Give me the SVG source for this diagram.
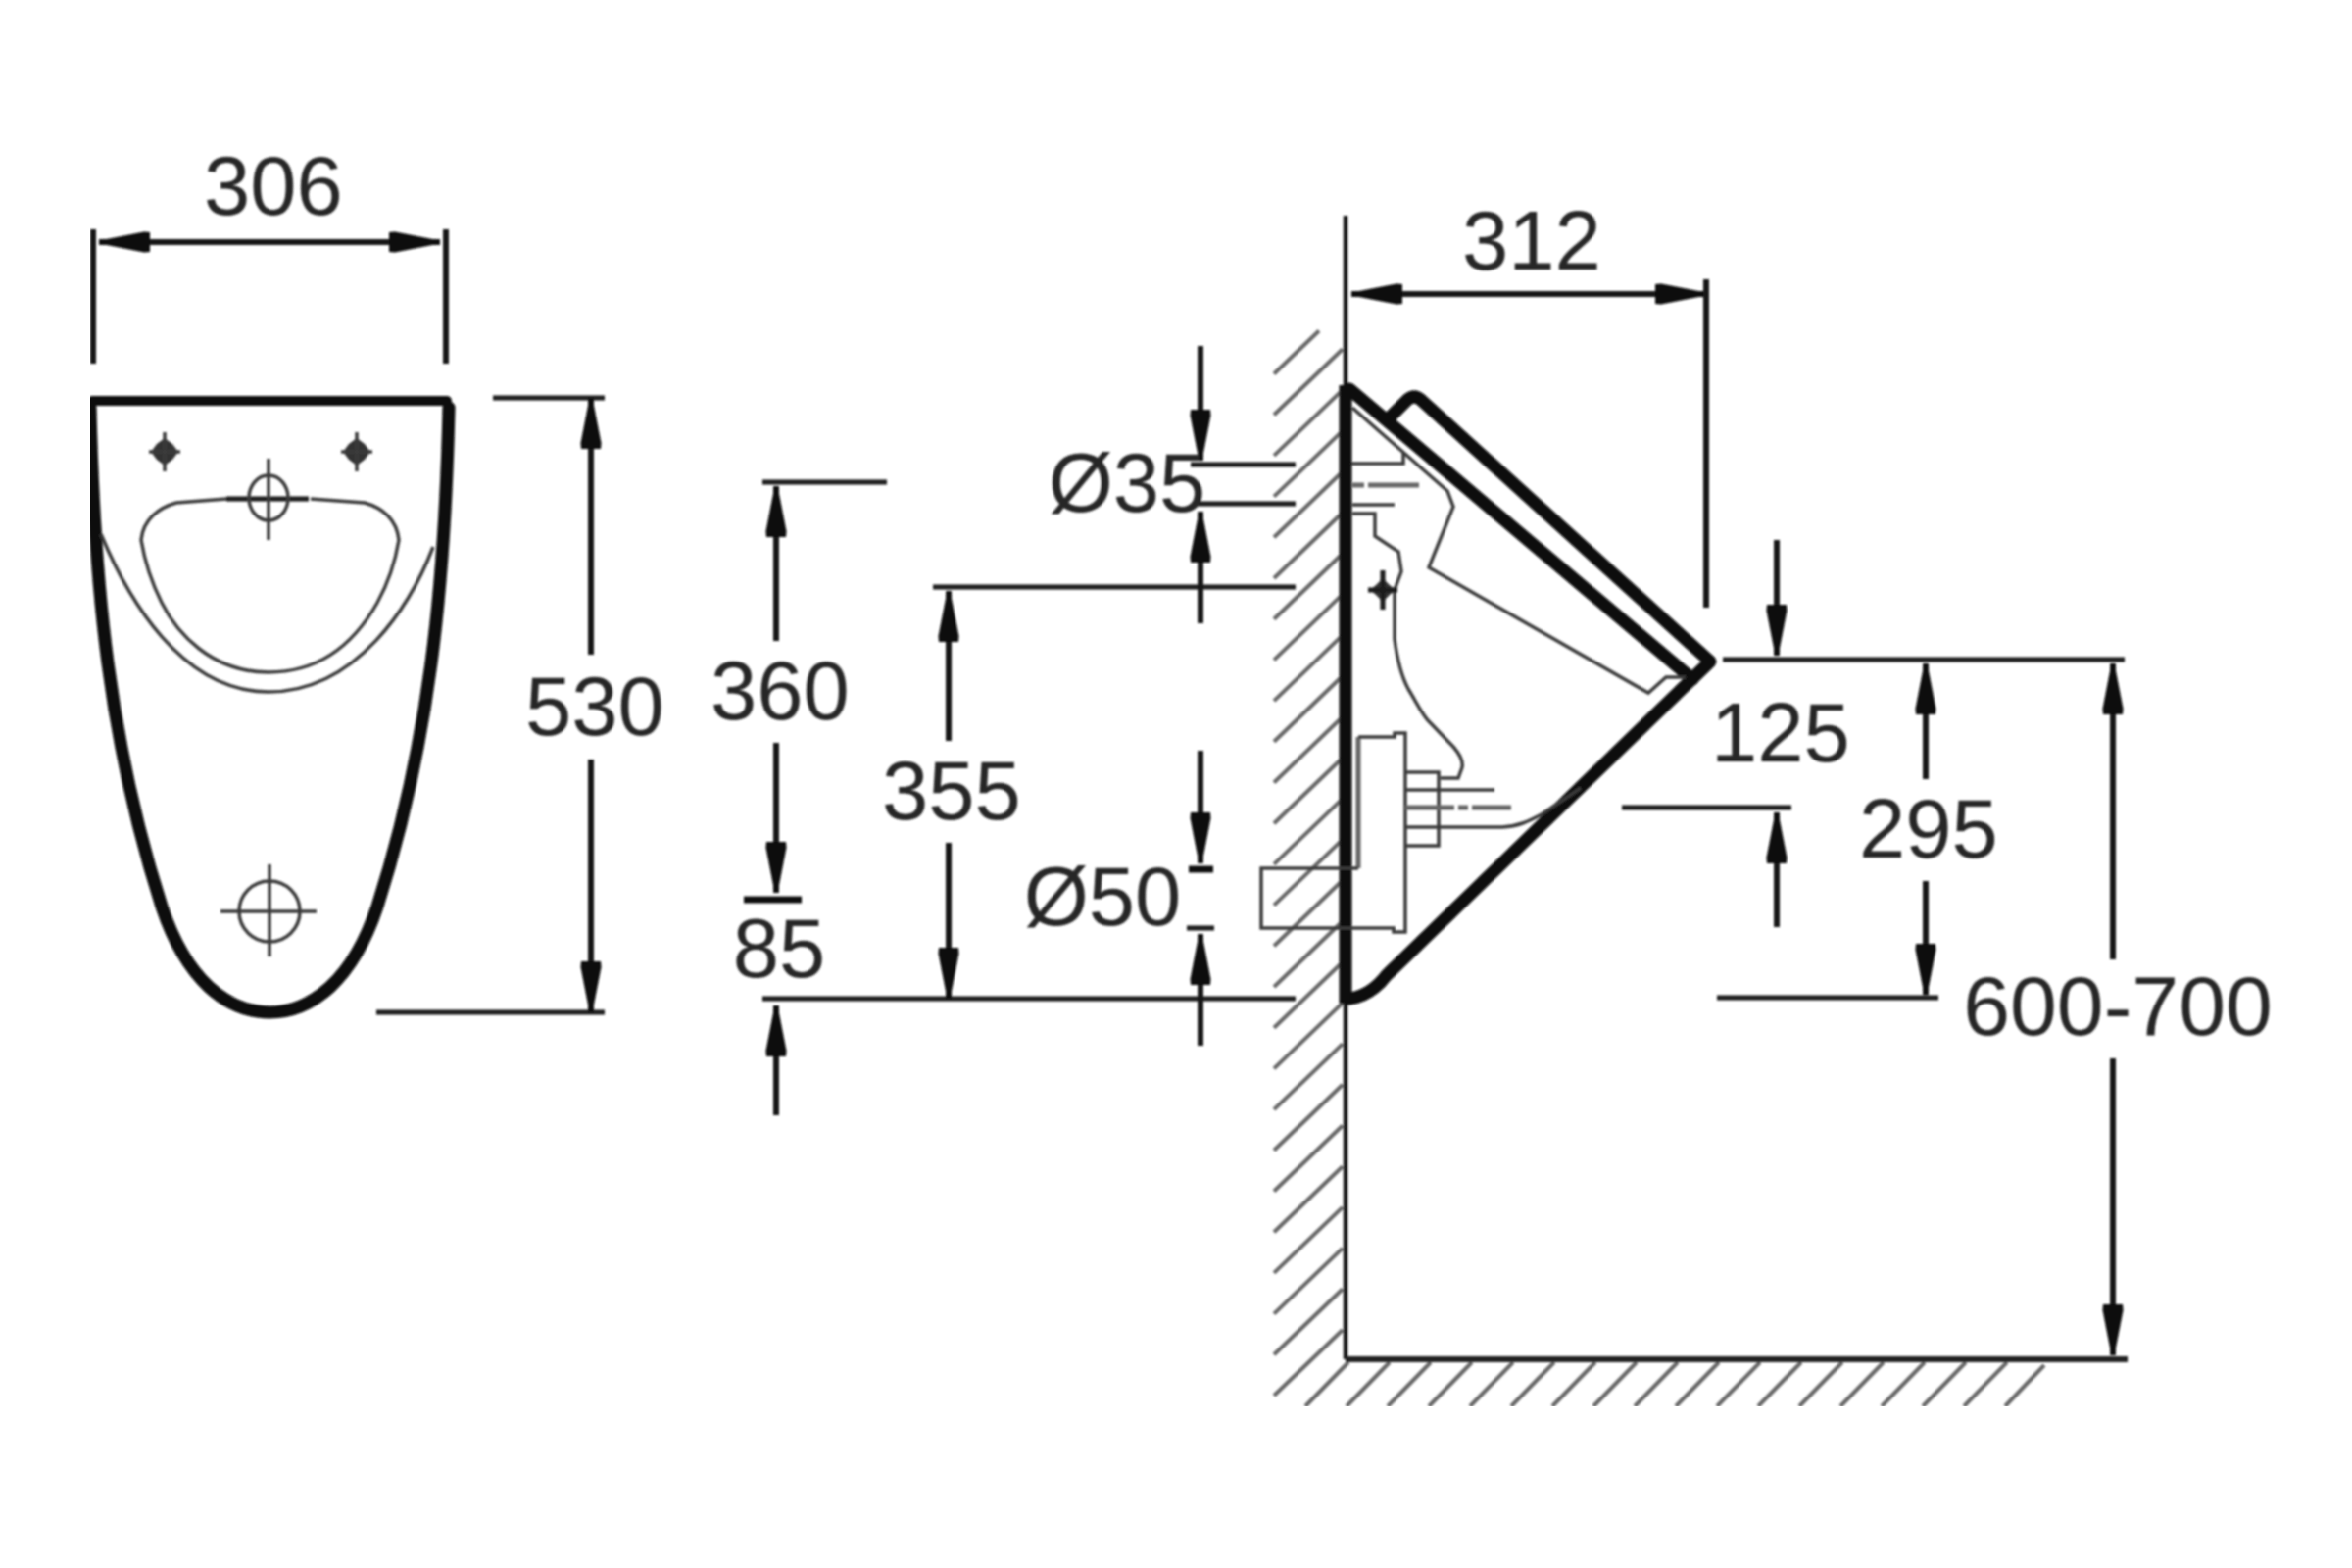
<svg xmlns="http://www.w3.org/2000/svg" width="2400" height="1600" viewBox="0 0 2400 1600">
<style>
text{font-family:"Liberation Sans",Arial,sans-serif;font-size:85px;fill:#262626;text-anchor:middle}
.dim{stroke:#141414;stroke-width:6;fill:none}
.ext{stroke:#1c1c1c;stroke-width:5;fill:none}
.heavy{stroke:#0a0a0a;stroke-width:13;fill:none;stroke-linejoin:round;stroke-linecap:round}
.thin{stroke:#3a3a3a;stroke-width:3.5;fill:none}
.grey{stroke:#666;stroke-width:5;fill:none}
.hatch{stroke:#666;stroke-width:4;fill:none}
</style>
<defs>
<marker id="arrow" markerUnits="userSpaceOnUse" markerWidth="56" markerHeight="24" refX="52" refY="12" orient="auto-start-reverse">
<polygon points="0,2 6,1.5 52,10.5 52,13.5 6,22.5 0,22" fill="#0d0d0d"/>
</marker>
<filter id="soft" x="0" y="0" width="100%" height="100%"><feGaussianBlur stdDeviation="1.1"/></filter>
</defs>
<rect width="2400" height="1600" fill="#fff"/>
<g filter="url(#soft)">
<g id="front-view">
<path class="heavy" d="M92,416C96,600 112,760 165,925C190,1000 232,1033 275,1033C318,1033 360,1000 385,925C438,760 454,600 458,416" stroke-width="12"/>
<path d="M94,409H456" stroke="#0a0a0a" stroke-width="10" stroke-linecap="round" fill="none"/>
<path class="thin" d="M103,545C130,610 185,706 274,706C365,706 420,615 442,558" stroke-width="4"/>
<path class="thin" d="M231,509L180,513C162,518 146,530 144,551C148,575 155,595 165,615C180,645 215,686 274,686C335,686 368,645 385,615C396,595 403,575 407,551C405,530 390,518 372,513L317,509"/>
<path class="ext" d="M231,509H315"/>
<ellipse class="thin" cx="274" cy="508" rx="20" ry="23"/>
<path class="thin" d="M274,468V551"/>
<g id="front-fixing-left"><polygon points="168,447 176,453 182,461 176,469 168,475 160,469 154,461 160,453" fill="#333"/><path class="thin" d="M152,461H184M168,441V481"/></g>
<g id="front-fixing-right"><polygon points="364,447 372,453 378,461 372,469 364,475 356,469 350,461 356,453" fill="#333"/><path class="thin" d="M348,461H380M364,441V481"/></g>
<g id="front-outlet"><ellipse class="thin" cx="275" cy="930" rx="31" ry="31"/><path class="thin" d="M225,930H323M275,882V976"/></g>
</g>
<g id="wall-floor">
<path class="hatch" d="M1300,1424l70,-67M1300,1382.3l70,-67M1300,1340.6l70,-67M1300,1298.9l70,-67M1300,1257.2l70,-67M1300,1215.5l70,-67M1300,1173.8l70,-67M1300,1132.1l70,-67M1300,1090.4l70,-67M1300,1048.7l70,-67M1300,1007l70,-67M1300,965.3l70,-67M1300,923.6l70,-67M1300,881.9l70,-67M1300,840.2l70,-67M1300,798.5l70,-67M1300,756.8l70,-67M1300,715.1l70,-67M1300,673.4l70,-67M1300,631.7l70,-67M1300,590l70,-67M1300,548.3l70,-67M1300,506.6l70,-67M1300,464.9l70,-67M1300,423.2l70,-67M1300,381.5l46,-44"/>
<path class="hatch" d="M1332,1435l44,-45M1374,1435l44,-45M1416,1435l44,-45M1458,1435l44,-45M1500,1435l44,-45M1542,1435l44,-45M1584,1435l44,-45M1626,1435l44,-45M1668,1435l44,-45M1710,1435l44,-45M1752,1435l44,-45M1794,1435l44,-45M1836,1435l44,-45M1878,1435l44,-45M1920,1435l44,-45M1962,1435l44,-45M2004,1435l44,-45M2046,1435l40,-42"/>
<path d="M1373,220V1387" stroke="#141414" stroke-width="4.5" fill="none"/>
<path d="M1373,1387H2171" stroke="#222" stroke-width="6" fill="none"/>
</g>
<g id="side-view">
<path d="M1373,393V1024" stroke="#0a0a0a" stroke-width="13" fill="none"/>
<path class="heavy" d="M1377,397L1727,693"/>
<path class="heavy" d="M1417,427L1436,408Q1443,402 1450,408L1745,675L1415,995C1405,1008 1392,1017 1377,1019"/>
<path class="thin" d="M1380,416L1477,501L1483,517L1458,579L1682,707L1700,691H1720"/>
<path class="thin" d="M1379,473H1432V462"/>
<path class="grey" d="M1380,495H1448" stroke-dasharray="12 4 44 0"/>
<path class="thin" d="M1380,515H1423"/>
<path class="thin" d="M1380,524H1403V547L1427,563L1430,583L1423,602V652C1426,675 1430,690 1437,703C1445,716 1450,727 1457,735L1483,762C1490,770 1493,778 1492,783L1488,794H1470"/>
<polygon points="1411,590 1418,597 1424,602 1418,607 1411,614 1404,607 1398,602 1404,597" fill="#333"/>
<path class="ext" d="M1396,602H1426M1411,582V622" stroke-width="4"/>
<path class="grey" d="M1386,752V886"/>
<path class="thin" d="M1386,752H1423V748H1434V951H1422V947H1287V886H1386"/>
<path class="thin" d="M1434,788H1468V863H1434M1468,788V863"/>
<path class="thin" d="M1434,806H1525M1434,844H1533C1550,843 1560,838 1573,831L1613,804"/>
<path class="grey" d="M1434,824H1553" stroke-width="4" stroke-dasharray="50 4 10 4 40"/>
</g>
<g id="connectors">
<path class="dim" d="M95,234V371M455,234V371" stroke-width="7"/>
<path class="dim" d="M101,247H449" marker-start="url(#arrow)" marker-end="url(#arrow)"/>
<path class="ext" d="M503,406H617M384,1033H617"/>
<path class="dim" d="M603,668V406" marker-end="url(#arrow)"/>
<path class="dim" d="M603,775V1033" marker-end="url(#arrow)"/>
<path class="dim" d="M1379,300H1741" marker-start="url(#arrow)" marker-end="url(#arrow)"/>
<path class="dim" d="M1741,285V620"/>
<path class="ext" d="M778,492H905M952,599H1322M778,1019H1322M1215,474H1322M1222,514H1322"/>
<path d="M759,918H818M1213,887H1238" stroke="#111" stroke-width="7" fill="none"/>
<path class="ext" d="M1211,947H1239"/>
<path class="dim" d="M792,654V496" marker-end="url(#arrow)"/>
<path class="dim" d="M792,758V911" marker-end="url(#arrow)"/>
<path class="dim" d="M792,1138V1026" marker-end="url(#arrow)"/>
<path class="dim" d="M968,756V603" marker-end="url(#arrow)"/>
<path class="dim" d="M968,860V1019" marker-end="url(#arrow)"/>
<path class="dim" d="M1225,353V470" marker-end="url(#arrow)"/>
<path class="dim" d="M1225,636V522" marker-end="url(#arrow)"/>
<path class="dim" d="M1225,766V881" marker-end="url(#arrow)"/>
<path class="dim" d="M1225,1067V953" marker-end="url(#arrow)"/>
<path class="ext" d="M1758,673H2168" stroke-width="6"/>
<path class="ext" d="M1655,824H1828M1752,1018H1978"/>
<path class="dim" d="M1813,551V669" marker-end="url(#arrow)"/>
<path class="dim" d="M1813,946V829" marker-end="url(#arrow)"/>
<path class="dim" d="M1965,795V677" marker-end="url(#arrow)"/>
<path class="dim" d="M1965,899V1015" marker-end="url(#arrow)"/>
<path class="dim" d="M2156,979V677" stroke-width="7" marker-end="url(#arrow)"/>
<path class="dim" d="M2156,1080V1383" stroke-width="7" marker-end="url(#arrow)"/>
</g>
<g id="labels">
<text x="279" y="219">306</text>
<text x="607" y="750">530</text>
<text x="1563" y="275">312</text>
<text x="796" y="734">360</text>
<text x="795" y="997">85</text>
<text x="971" y="836">355</text>
<text x="1150" y="522">Ø35</text>
<text x="1125" y="944">Ø50</text>
<text x="1817" y="777">125</text>
<text x="1968" y="875">295</text>
<text x="2161" y="1056" style="font-size:86px">600-700</text>
</g>
</g>
</svg>
